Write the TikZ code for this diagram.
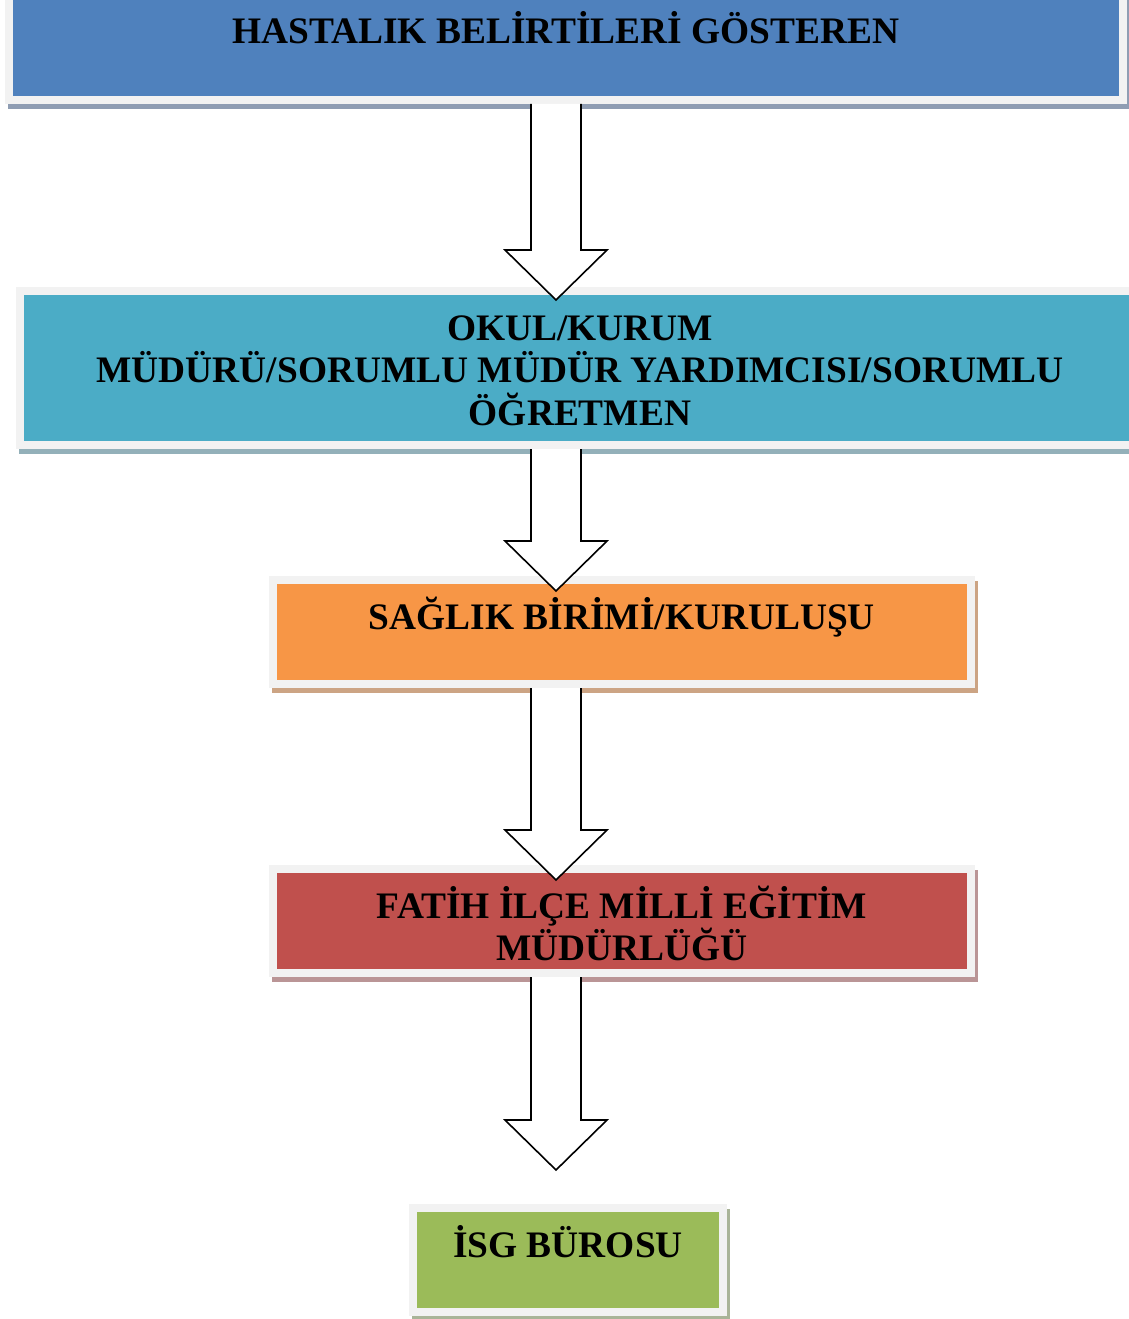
\documentclass[tikz,border=0pt]{standalone}
\usepackage{fontspec}
\setmainfont{Liberation Serif}
\usepackage{xcolor}
\usetikzlibrary{calc,backgrounds}
\definecolor{framegray}{RGB}{242,242,242}
\definecolor{boxblue}{RGB}{79,129,189}
\definecolor{boxcyan}{RGB}{75,172,198}
\definecolor{boxorange}{RGB}{247,150,70}
\definecolor{boxred}{RGB}{192,80,77}
\definecolor{boxgreen}{RGB}{155,187,89}
\definecolor{shblue}{RGB}{143,157,179}
\definecolor{shcyan}{RGB}{147,176,185}
\definecolor{shorange}{RGB}{204,164,132}
\definecolor{shred}{RGB}{186,149,150}
\definecolor{shgreen}{RGB}{169,180,152}

% block arrow from start point #1 down to tip #2
\newcommand{\flowarrow}[2]{%
  \draw[blockarrow] ($(#1)+(-25,0)$) -- ($(#2)+(-25,-50)$) -- ($(#2)+(-51,-50)$)
    -- (#2) -- ($(#2)+(51,-50)$) -- ($(#2)+(25,-50)$) -- ($(#1)+(25,0)$);}

\begin{document}
\begin{tikzpicture}[x=1pt,y=-1pt,
  box/.style={draw=framegray, line width=8pt, inner sep=0pt},
  boxtext/.style={font=\fontsize{37.4}{42.5}\selectfont\bfseries, align=center, inner sep=0pt, anchor=base},
  blockarrow/.style={draw=black, fill=white, line width=1.6pt, line join=miter}]

\useasboundingbox (0,0) rectangle (1129,1319);

\node[box, fill=boxblue, minimum width=1114pt, minimum height=105pt] (b1) at (566,47.5) {};
\node[box, fill=boxcyan, minimum width=1120pt, minimum height=154pt] (b2) at (580,368) {};
\node[box, fill=boxorange, minimum width=698pt, minimum height=104pt] (b3) at (622,632) {};
\node[box, fill=boxred, minimum width=698pt, minimum height=104pt] (b4) at (622,921) {};
\node[box, fill=boxgreen, minimum width=310pt, minimum height=104pt] (b5) at (568,1260) {};

% shadows
\begin{scope}[on background layer]
  \fill[shblue] ([shift={(3,5)}]b1.north west) rectangle ([shift={(3,5)}]b1.south east);
  \fill[shcyan] ([shift={(3,5)}]b2.north west) rectangle ([shift={(3,5)}]b2.south east);
  \fill[shorange] ([shift={(3,5)}]b3.north west) rectangle ([shift={(3,5)}]b3.south east);
  \fill[shred] ([shift={(3,5)}]b4.north west) rectangle ([shift={(3,5)}]b4.south east);
  \fill[shgreen] ([shift={(3,5)}]b5.north west) rectangle ([shift={(3,5)}]b5.south east);
\end{scope}

% arrows
\coordinate (axis) at (556,0);
\path (b1.south -| axis) coordinate (s1);
\path (b2.south -| axis) coordinate (s2);
\path (b3.south -| axis) coordinate (s3);
\path (b4.south -| axis) coordinate (s4);
\path (b2.north -| axis) ++(0,13) coordinate (e1);
\path (b3.north -| axis) ++(0,15) coordinate (e2);
\path (b4.north -| axis) ++(0,15) coordinate (e3);
\path (b5.north -| axis) ++(0,-34) coordinate (e4);

\flowarrow{s1}{e1}
\flowarrow{s2}{e2}
\flowarrow{s3}{e3}
\flowarrow{s4}{e4}

% texts (base = last line)
\node[boxtext] (t1) at ([shift={(0,53)}]b1.north) {HASTALIK BELİRTİLERİ GÖSTEREN};
\node[boxtext] (t2) at ([shift={(0,138)}]b2.north) {OKUL/KURUM\\MÜDÜRÜ/SORUMLU MÜDÜR YARDIMCISI/SORUMLU\\ÖĞRETMEN};
\node[boxtext] (t3) at ([shift={(0,53)}]b3.north) {SAĞLIK BİRİMİ/KURULUŞU};
\node[boxtext] (t4) at ([shift={(0,95.5)}]b4.north) {FATİH İLÇE MİLLİ EĞİTİM\\MÜDÜRLÜĞÜ};
\node[boxtext] (t5) at ([shift={(0,53)}]b5.north) {İSG BÜROSU};
\end{tikzpicture}
\end{document}
